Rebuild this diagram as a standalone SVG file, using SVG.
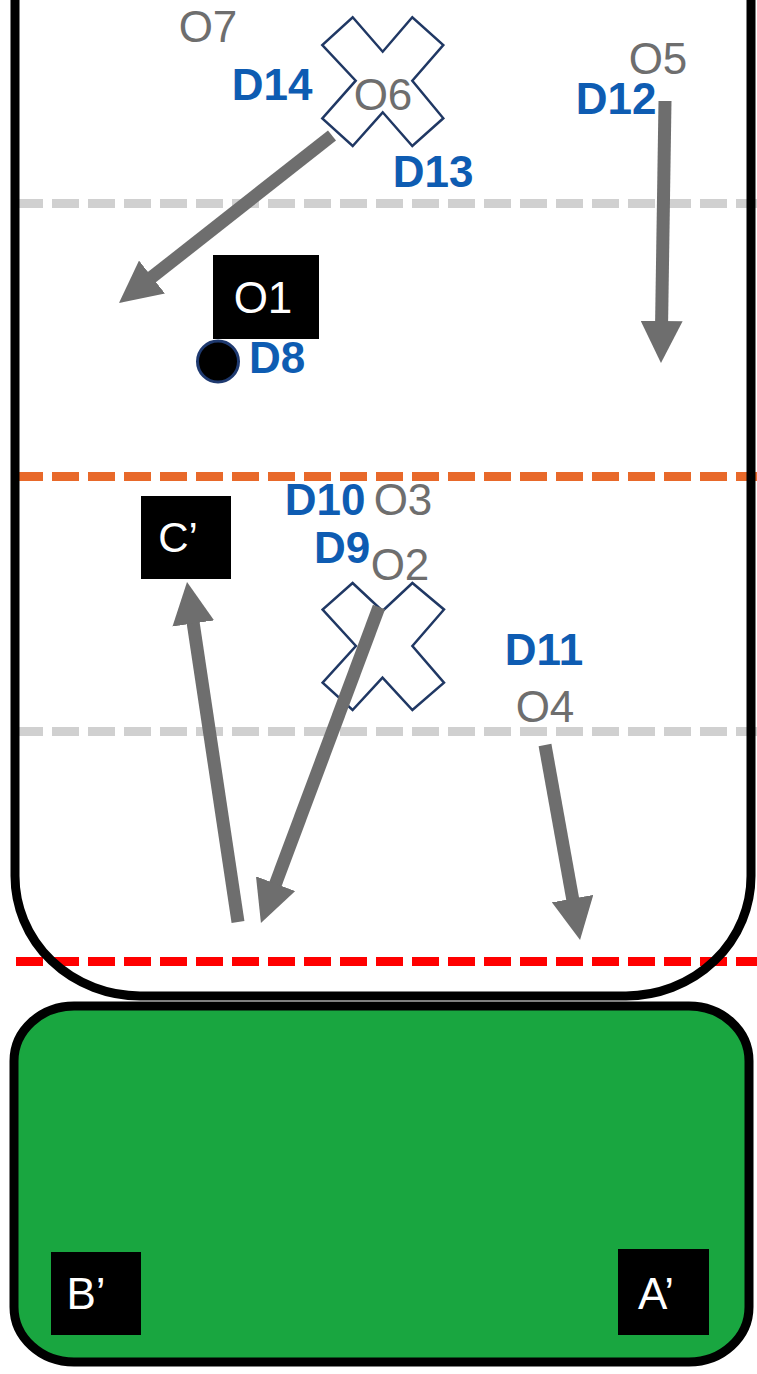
<svg xmlns="http://www.w3.org/2000/svg" width="757" height="1374" viewBox="0 0 757 1374">
<style>
.dash{fill:none;stroke-width:9;stroke-dasharray:27 9}
.g{font-family:"Liberation Sans",Arial,sans-serif;font-size:44px;fill:#6E6E6E;text-anchor:middle}
.b{font-family:"Liberation Sans",Arial,sans-serif;font-size:44px;font-weight:bold;fill:#0E5CB2;text-anchor:middle}
.w{font-family:"Liberation Sans",Arial,sans-serif;font-size:44px;fill:#FFFFFF;text-anchor:middle}
.cross{fill:#FFFFFF;stroke:#203864;stroke-width:2.5;stroke-linejoin:miter}
.box{fill:#000000}
.arr{stroke:#6E6E6E;stroke-width:13;fill:none;marker-end:url(#head)}
</style>
<defs>
<marker id="head" viewBox="0 0 42 42" refX="1" refY="21" markerWidth="42" markerHeight="42" orient="auto" markerUnits="userSpaceOnUse">
<path d="M0,0 L42,21 L0,42 Z" fill="#6E6E6E"/>
</marker>
</defs>
<rect width="757" height="1374" fill="#FFFFFF"/>
<g id="field">
<path d="M15,-20 L15,876 A125,120 0 0 0 140,996 L626,996 A125,120 0 0 0 751,876 L751,-20 Z" fill="#FFFFFF"/>
</g>
<g id="endzone">
<rect x="14" y="1006" width="735" height="356" rx="60" ry="55" fill="#19A640" stroke="#000000" stroke-width="9"/>
</g>
<g id="lines">
<line class="dash" x1="16" y1="203.5" x2="757" y2="203.5" stroke="#D0D0D0"/>
<line class="dash" x1="16" y1="476.5" x2="757" y2="476.5" stroke="#E8692A"/>
<line class="dash" x1="16" y1="731.5" x2="757" y2="731.5" stroke="#D0D0D0"/>
<line class="dash" x1="16" y1="961.5" x2="757" y2="961.5" stroke="#FF0000"/>
</g>
<g id="field-border">
<path d="M15,-20 L15,876 A125,120 0 0 0 140,996 L626,996 A125,120 0 0 0 751,876 L751,-20" fill="none" stroke="#000000" stroke-width="9"/>
</g>
<g id="cross-top">
<polygon class="cross" points="352.7,17.3 382.7,51.7 412.3,17.3 443.3,45 412.3,80.7 443.3,118.3 412.3,146 382.7,112.3 352.7,146 322.3,118.3 355.7,80.7 322.3,45"/>
</g>
<g id="cross-mid">
<polygon class="cross" points="352.6,583 382.5,611 412.4,583 444,609.5 412.4,646 444,682.6 412.4,710 382.5,677.6 352.6,710 322.6,682.6 355.9,646 322.6,609.5"/>
</g>
<g id="O1"><rect class="box" x="213" y="255" width="106" height="84"/><text class="w" x="263" y="313">O1</text></g>
<g id="Cp"><rect class="box" x="141" y="496" width="90" height="83"/><text class="w" x="178" y="552" style="font-size:42px">C’</text></g>
<g id="Bp"><rect class="box" x="51" y="1252" width="90" height="83"/><text class="w" x="86" y="1309">B’</text></g>
<g id="Ap"><rect class="box" x="618" y="1249" width="91" height="86"/><text class="w" x="656" y="1309">A’</text></g>
<g id="D8-disc"><circle cx="218" cy="361.5" r="20.5" fill="#000000" stroke="#1F3A70" stroke-width="3"/></g>
<g id="labels">
<text id="O7" class="g" x="208" y="42">O7</text>
<text id="D14" class="b" x="272" y="100">D14</text>
<text id="O6" class="g" x="383" y="110">O6</text>
<text id="D13" class="b" x="433" y="187">D13</text>
<text id="O5" class="g" x="658" y="74">O5</text>
<text id="D12" class="b" x="616" y="114">D12</text>
<text id="D8" class="b" x="277" y="373">D8</text>
<text id="D10" class="b" x="325" y="515">D10</text>
<text id="O3" class="g" x="403" y="515">O3</text>
<text id="D9" class="b" x="342" y="563">D9</text>
<text id="O2" class="g" x="400" y="580">O2</text>
<text id="D11" class="b" x="544" y="665">D11</text>
<text id="O4" class="g" x="545" y="722">O4</text>
</g>
<g id="connectors">
<line class="arr" x1="332" y1="135.5" x2="151.2" y2="277.7"/>
<line class="arr" x1="665" y1="101" x2="661.6" y2="322"/>
<line class="arr" x1="238" y1="922" x2="193.1" y2="622.5"/>
<line class="arr" x1="379" y1="607" x2="275.3" y2="884.6"/>
<line class="arr" x1="545" y1="745" x2="572.8" y2="899.6"/>
</g>
</svg>
